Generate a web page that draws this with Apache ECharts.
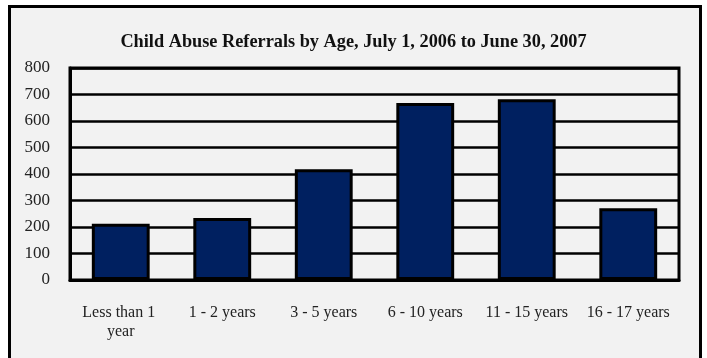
<!DOCTYPE html>
<html>
<head>
<meta charset="utf-8">
<script src="https://cdn.jsdelivr.net/npm/echarts@6/dist/echarts.min.js"></script>
<style>
html,body{margin:0;padding:0;background:#fff;}
#chart{width:707px;height:358px;}
</style>
</head>
<body>
<div id="chart"></div>
<script>
const titleText = 'Child Abuse Referrals by Age, July 1, 2006 to June 30, 2007';
const categories = ['Less than 1 year', '1 - 2 years', '3 - 5 years', '6 - 10 years', '11 - 15 years', '16 - 17 years'];
const referrals = [212, 234, 418, 668, 682, 271];
const yTicks = [0, 100, 200, 300, 400, 500, 600, 700, 800];

const FONT = '"Liberation Serif", "DejaVu Serif", serif';
const chart = echarts.init(document.getElementById('chart'), null, {renderer: 'canvas'});
chart.setOption({
  animation: false,
  backgroundColor: '#ffffff',
  graphic: [{
    type: 'rect', z: -10, silent: true,
    shape: {x: 9.5, y: 6.5, width: 691, height: 362},
    style: {fill: '#f2f2f2', stroke: '#000', lineWidth: 3}
  }],
  title: {
    text: titleText, left: 'center', top: 28,
    textStyle: {fontFamily: FONT, fontWeight: 'bold', fontSize: 18.3, color: '#111'}
  },
  grid: {left: 70, right: 28, top: 68, bottom: 78, show: true, borderColor: '#000', borderWidth: 3, backgroundColor: 'transparent'},
  xAxis: {
    type: 'category', data: categories,
    axisLine: {lineStyle: {color: '#000', width: 3}},
    axisTick: {show: false},
    axisLabel: {fontFamily: FONT, fontSize: 16, color: '#222', margin: 23, width: 92, overflow: 'break', lineHeight: 19, interval: 0}
  },
  yAxis: {
    type: 'value', min: yTicks[0], max: yTicks[yTicks.length - 1], interval: 100,
    axisLine: {show: true, lineStyle: {color: '#000', width: 3}},
    axisTick: {show: false},
    splitLine: {lineStyle: {color: '#000', width: 2.5}},
    axisLabel: {fontFamily: FONT, fontSize: 17, color: '#222', margin: 20}
  },
  series: [{
    type: 'bar', data: referrals, barWidth: '57%',
    itemStyle: {color: '#002060', borderColor: '#000', borderWidth: 3}
  }]
});
</script>
</body>
</html>
